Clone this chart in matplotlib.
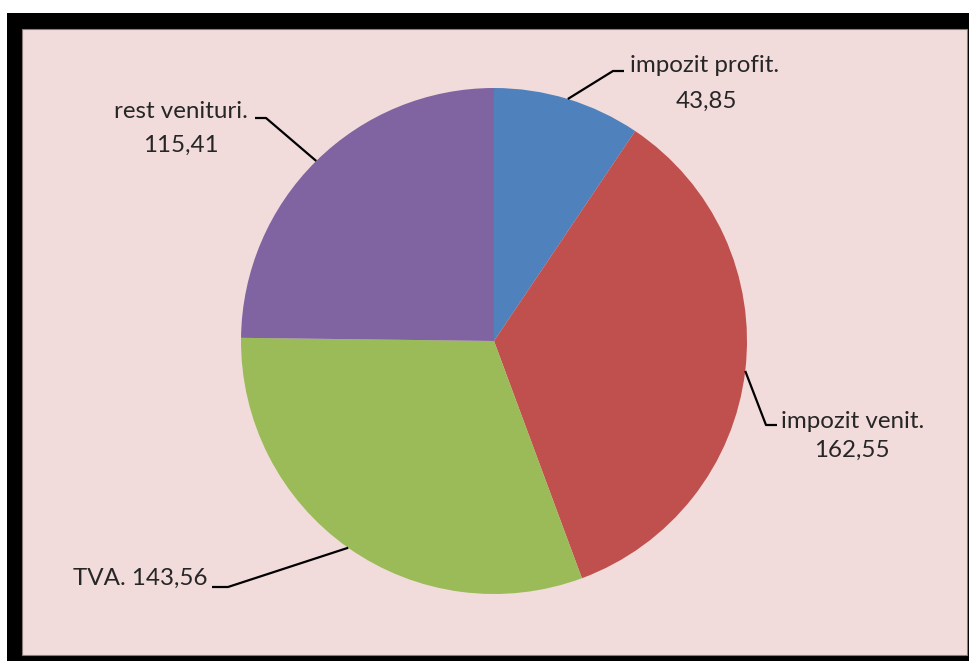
import matplotlib
matplotlib.use("Agg")
import matplotlib.pyplot as plt
import matplotlib.patches as mpatches
import numpy as np

# data
labels = ["impozit profit.", "impozit venit.", "TVA.", "rest venituri."]
values = [43.85, 162.55, 143.56, 115.41]
value_text = ["43,85", "162,55", "143,56", "115,41"]
colors = ["#4F81BD", "#C0504D", "#9BBB59", "#8064A2"]

W, H = 969, 661
BG = "#F2DCDB"
FONT = "Lato"

fig = plt.figure(figsize=(W / 100, H / 100), dpi=100)
fig.patch.set_facecolor("white")
ax = fig.add_axes([0, 0, 1, 1])


def Y(y):
    # pixel row (from top) -> data y
    return H - y


# frame: thick black border + pink plot area
ax.add_patch(mpatches.Rectangle((7, Y(661)), 962, 648, facecolor="black",
                                edgecolor="none", zorder=0))
ax.add_patch(mpatches.Rectangle((22, Y(655)), 945, 626, facecolor=BG,
                                edgecolor="#8a7a7a", linewidth=0.8, zorder=1))

cx, cy, r = 494, Y(341), 253
wedges, _ = ax.pie(values, colors=colors, startangle=90, counterclock=False,
                   center=(cx, cy), radius=r, frame=True,
                   wedgeprops=dict(edgecolor="none", zorder=2))
ax.set_xlim(0, W)
ax.set_ylim(0, H)
ax.set_aspect("equal")
ax.axis("off")


def edge_point(w):
    mid = np.deg2rad((w.theta1 + w.theta2) / 2)
    return cx + r * np.cos(mid), cy + r * np.sin(mid)


txt = dict(fontsize=17.4, family=FONT, color="#262626", zorder=4)
lk = dict(color="black", linewidth=1.6, zorder=3, solid_capstyle="butt")

# impozit profit.
px, py = edge_point(wedges[0])
ax.plot([px, 613, 624], [py, Y(71), Y(71)], **lk)
ax.text(630, Y(66), labels[0], ha="left", va="center", **txt)
ax.text(706, Y(101), value_text[0], ha="center", va="center", **txt)

# impozit venit.
px, py = edge_point(wedges[1])
ax.plot([px, 766, 777], [py, Y(425), Y(425)], **lk)
ax.text(781, Y(421), labels[1], ha="left", va="center", **txt)
ax.text(852, Y(450), value_text[1], ha="center", va="center", **txt)

# TVA.
px, py = edge_point(wedges[2])
ax.plot([212, 228, px], [Y(587), Y(587), py], **lk)
ax.text(208, Y(578), labels[2] + " " + value_text[2], ha="right",
        va="center", **txt)

# rest venituri.
px, py = edge_point(wedges[3])
ax.plot([255, 266, px], [Y(118), Y(118), py], **lk)
ax.text(248, Y(111), labels[3], ha="right", va="center", **txt)
ax.text(181, Y(145), value_text[3], ha="center", va="center", **txt)

fig.savefig("out.png", dpi=100, facecolor="white")
plt.close(fig)
